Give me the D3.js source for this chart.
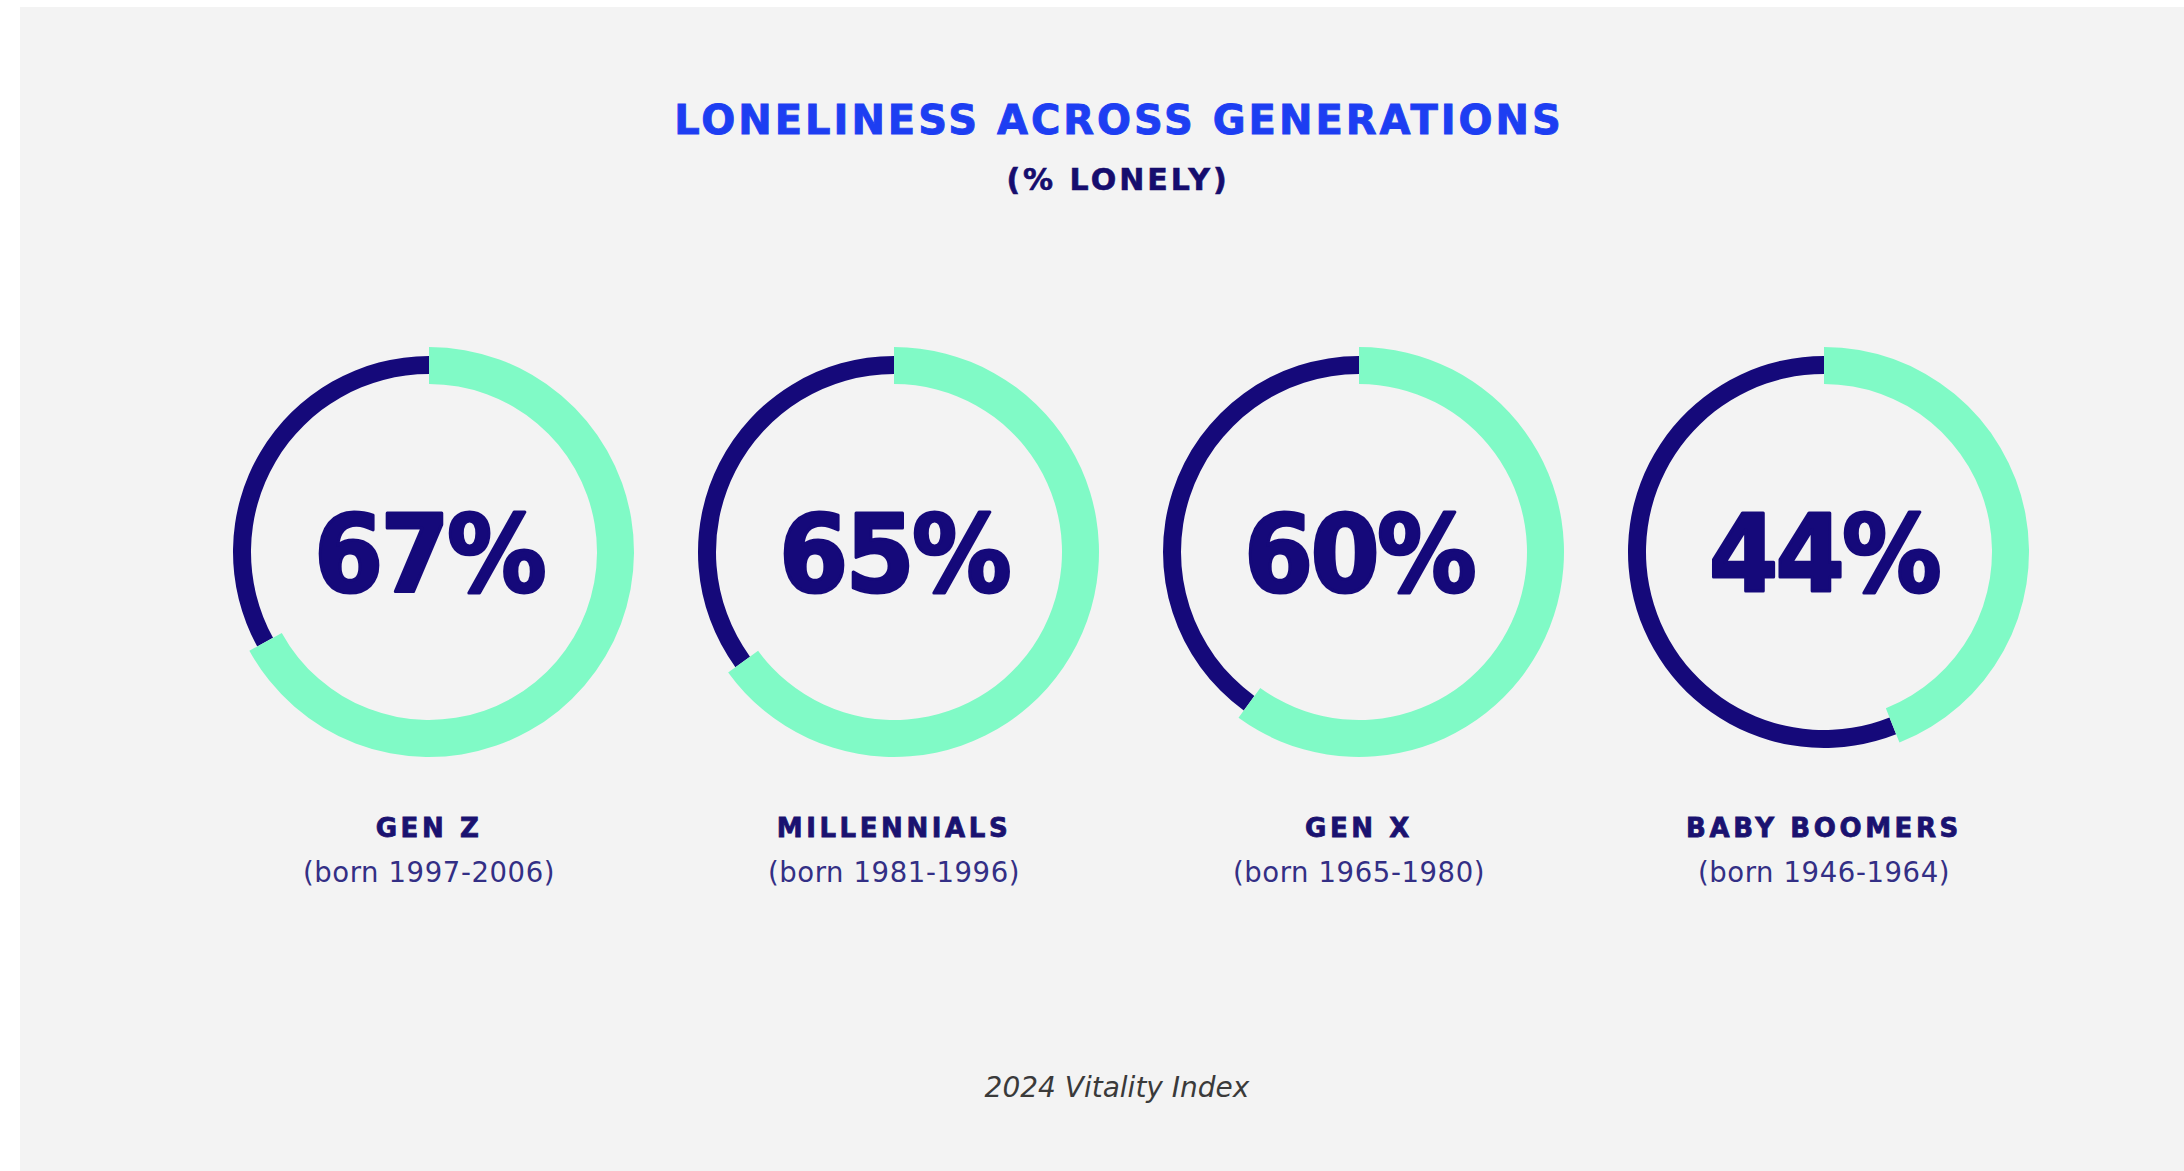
<!DOCTYPE html>
<html>
<head>
<meta charset="utf-8">
<script src="https://cdn.jsdelivr.net/npm/d3@7/dist/d3.min.js"></script>
<style>
  html, body { margin: 0; padding: 0; background: #ffffff; }
  svg { display: block; }
</style>
</head>
<body>
<svg id="chart" width="2184" height="1171"></svg>
<script>
// ---- data ----
const generations = ["GEN Z", "MILLENNIALS", "GEN X", "BABY BOOMERS"];
const birthRanges = ["(born 1997-2006)", "(born 1981-1996)", "(born 1965-1980)", "(born 1946-1964)"];
const lonelyPct = [67, 65, 60, 44];
const titleText = "LONELINESS ACROSS GENERATIONS";
const subtitleText = "(% LONELY)";
const sourceText = "2024 Vitality Index";

// ---- layout ----
const W = 2184, H = 1171;
const svg = d3.select("#chart");
const navy = "#15097a";
const mint = "#80fac6";

svg.append("rect").attr("x", 20).attr("y", 7).attr("width", W - 20).attr("height", H - 7).attr("fill", "#f3f3f3");

svg.append("text").attr("x", 1119).attr("y", 134).attr("text-anchor", "middle")
  .attr("font-family", "DejaVu Sans").attr("font-weight", "bold").attr("font-size", 40)
  .attr("letter-spacing", 3).attr("fill", "#1d3ef2")
  .attr("stroke", "#1d3ef2").attr("stroke-width", 0.9).text(titleText);

svg.append("text").attr("x", 1118).attr("y", 190).attr("text-anchor", "middle")
  .attr("font-family", "DejaVu Sans").attr("font-weight", "bold").attr("font-size", 30)
  .attr("letter-spacing", 3).attr("fill", "#160d6e")
  .attr("stroke", "#160d6e").attr("stroke-width", 0.6).text(subtitleText);

const x = d3.scalePoint().domain(generations).range([429, 1824]);
const ang = d3.scaleLinear().domain([0, 100]).range([0, 2 * Math.PI]);
const cy = 552;

const greenArc = d3.arc().innerRadius(168).outerRadius(205);
const darkArc = d3.arc().innerRadius(178).outerRadius(196);

const g = svg.selectAll("g.gen").data(generations.map((d, i) => ({ name: d, born: birthRanges[i], v: lonelyPct[i] })))
  .enter().append("g").attr("class", "gen")
  .attr("transform", d => `translate(${x(d.name)},${cy})`);

g.append("path").attr("fill", navy)
  .attr("d", d => darkArc({ startAngle: ang(d.v), endAngle: ang(100) }));
g.append("path").attr("fill", mint)
  .attr("d", d => greenArc({ startAngle: ang(0), endAngle: ang(d.v) }));

g.append("text").attr("x", 0).attr("y", 0).attr("text-anchor", "middle")
  .attr("transform", "translate(0,39) scale(0.93,1)")
  .attr("font-family", "DejaVu Sans").attr("font-weight", "bold").attr("font-size", 107)
  .attr("letter-spacing", -3)
  .attr("stroke", navy).attr("stroke-width", 3.2).attr("stroke-linejoin", "round")
  .attr("fill", navy).text(d => d.v + "%");

g.append("text").attr("x", 0).attr("y", 837 - cy).attr("text-anchor", "middle")
  .attr("font-family", "DejaVu Sans").attr("font-weight", "bold").attr("font-size", 26)
  .attr("letter-spacing", 3.6).attr("fill", "#1a1270")
  .attr("stroke", "#1a1270").attr("stroke-width", 0.8).text(d => d.name);

g.append("text").attr("x", 0).attr("y", 882 - cy).attr("text-anchor", "middle")
  .attr("font-family", "DejaVu Sans").attr("font-size", 27.5)
  .attr("letter-spacing", 0.6).attr("fill", "#332f85").text(d => d.born);

svg.append("text").attr("x", 1117).attr("y", 1097).attr("text-anchor", "middle")
  .attr("font-family", "DejaVu Sans").attr("font-style", "italic").attr("font-size", 28)
  .attr("fill", "#3a3a3a").text(sourceText);
</script>
</body>
</html>
